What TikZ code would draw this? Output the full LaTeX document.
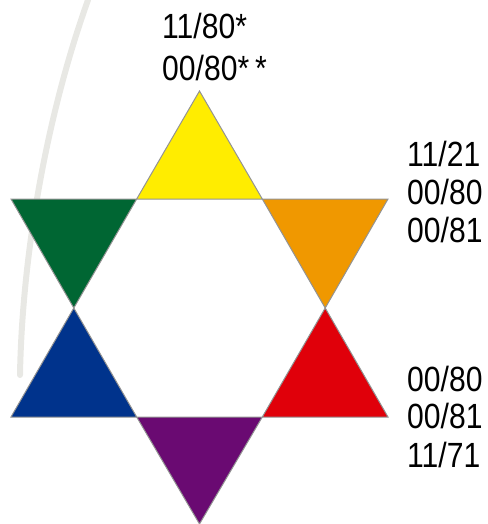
\documentclass[tikz,border=0pt]{standalone}
\usepackage{fontspec}
\setmainfont{Liberation Sans}[FakeStretch=0.86]
\usepackage{xcolor}
\usepackage{tikz}
\usetikzlibrary{positioning}

\definecolor{cyellow}{HTML}{FFED00}
\definecolor{corange}{HTML}{F09800}
\definecolor{cred}{HTML}{E0000A}
\definecolor{cpurple}{HTML}{6A0A72}
\definecolor{cblue}{HTML}{00338C}
\definecolor{cgreen}{HTML}{006633}
\definecolor{leafgray}{HTML}{E8E8E4}

\tikzset{
  tri/.style={draw=gray!85, line width=1pt, line join=miter},
  lbl/.style={anchor=base west, inner sep=0pt, font=\fontsize{35}{38}\selectfont},
}

\begin{document}
\begin{tikzpicture}[x=1pt, y=-1pt]
  \useasboundingbox (0,0) rectangle (487,524);
  \draw[leafgray, line width=6pt, line cap=round] (88,0) .. controls (45,120) and (22,260) .. (20,375);
  \coordinate (top) at (199.5,91);
  \coordinate (ul) at (11,199);   \coordinate (ur) at (388,199);
  \coordinate (tl) at (136.7,199); \coordinate (tr) at (262.3,199);
  \coordinate (ml) at (73.8,308);  \coordinate (mr) at (325.2,308);
  \coordinate (bl) at (136.7,417); \coordinate (br) at (262.3,417);
  \coordinate (ll) at (11,417);   \coordinate (lr) at (388,417);
  \coordinate (bot) at (199.5,524);
  \filldraw[tri, fill=cyellow] (top) -- (tl) -- (tr) -- cycle;
  \filldraw[tri, fill=cgreen]  (ul) -- (tl) -- (ml) -- cycle;
  \filldraw[tri, fill=corange] (tr) -- (ur) -- (mr) -- cycle;
  \filldraw[tri, fill=cblue]   (ml) -- (ll) -- (bl) -- cycle;
  \filldraw[tri, fill=cred]    (mr) -- (br) -- (lr) -- cycle;
  \filldraw[tri, fill=cpurple] (bl) -- (br) -- (bot) -- cycle;
  \node[lbl] (y1) at (162,39) {11/80*};
  \node[lbl] (y2) at (162,81) {00/80*\,*};
  \node[lbl] (o1) at (407,166) {11/21};
  \node[lbl] (o2) at (407,204) {00/80};
  \node[lbl] (o3) at (407,242) {00/81};
  \node[lbl] (r1) at (407,391) {00/80};
  \node[lbl] (r2) at (407,428) {00/81};
  \node[lbl] (r3) at (407,467) {11/71};
\end{tikzpicture}
\end{document}
